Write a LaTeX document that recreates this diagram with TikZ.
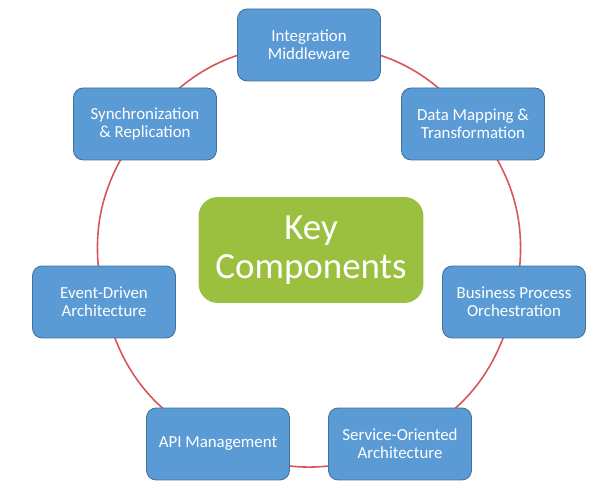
\documentclass[tikz,border=0pt]{standalone}
\usepackage{fontspec}
\setmainfont{Carlito}
\usetikzlibrary{backgrounds}
\definecolor{boxblue}{RGB}{91,155,213}
\definecolor{boxedge}{RGB}{65,113,156}
\definecolor{keygreen}{RGB}{155,192,64}
\definecolor{ringred}{RGB}{215,84,88}

\begin{document}
\begin{tikzpicture}[x=0.02cm,y=-0.02cm,
    part/.style={draw=boxedge, fill=boxblue, text=white, rounded corners=5.5pt,
      minimum width=2.86cm, minimum height=1.44cm, inner sep=2pt, align=center,
      line width=0.5pt, font=\fontsize{9.6}{10.4}\selectfont},
    hub/.style={fill=keygreen, text=white, rounded corners=11pt,
      minimum width=4.5cm, minimum height=2.12cm, inner sep=2pt, align=center,
      font=\fontsize{21}{21.8}\selectfont},
    ring/.style={draw=ringred, line width=0.9pt}]
        \useasboundingbox (0,0) rectangle (602,502);
        \node[hub]  (key) at (311,250) {Key\\Components};
        \node[part] (mid) at (309,45)  {Integration\\Middleware};
        \node[part] (map) at (473,124) {Data Mapping \&\\Transformation};
        \node[part] (bpo) at (514,302) {Business Process\\Orchestration};
        \node[part] (soa) at (400,444) {Service-Oriented\\Architecture};
        \node[part] (api) at (218,444) {API Management};
        \node[part] (eda) at (104,302) {Event-Driven\\Architecture};
        \node[part] (syn) at (145,124) {Synchronization\\\& Replication};
        % ring behind the boxes
        \begin{scope}[on background layer]
          \foreach \a/\b in {mid/map,map/bpo,bpo/soa,soa/api,api/eda,eda/syn,syn/mid}
            \draw[ring] (\a.center) to[bend left=25.7] (\b.center);
        \end{scope}
      \end{tikzpicture}
\end{document}
